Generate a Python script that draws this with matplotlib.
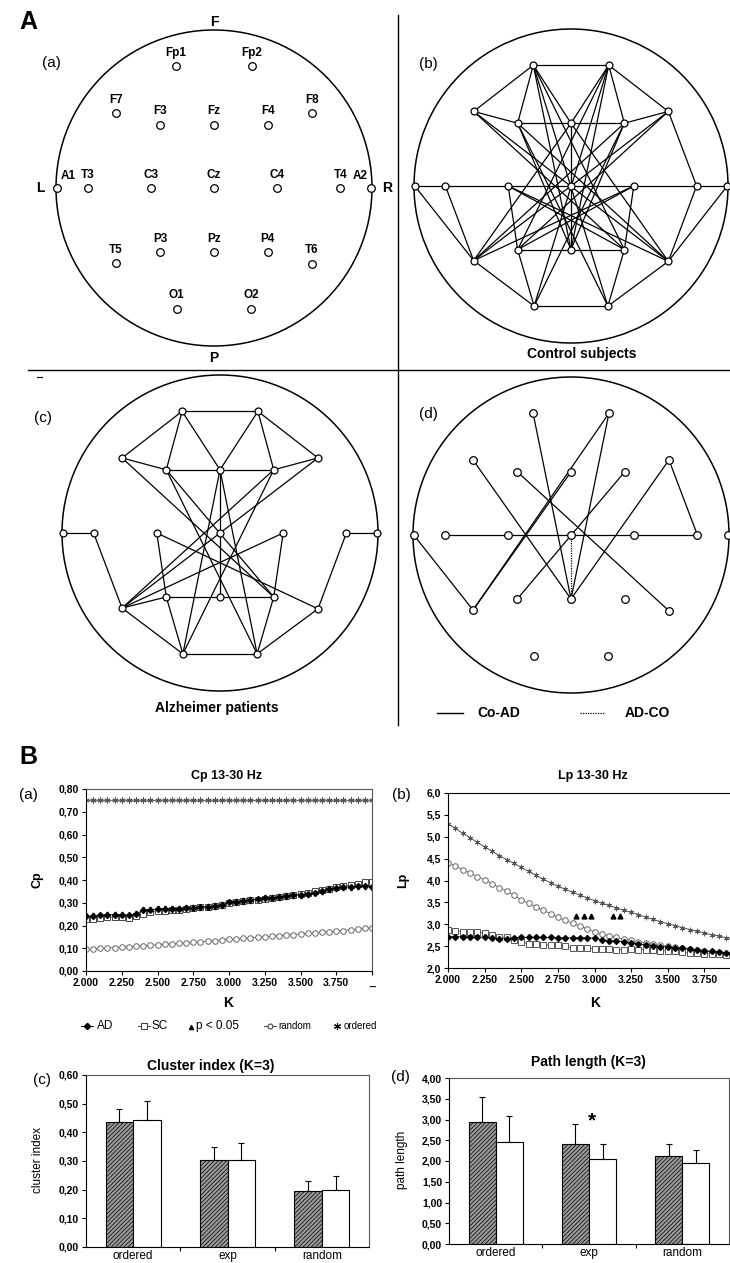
import numpy as np
import matplotlib.pyplot as plt
from matplotlib.patches import Circle

plt.rcParams['font.family'] = ['Liberation Sans', 'DejaVu Sans']
plt.rcParams['hatch.linewidth'] = 0.5

# ---- electrode layout (unit head circle, y up) ----
el_names = ['Fp1', 'Fp2', 'F7', 'F3', 'Fz', 'F4', 'F8',
            'A1', 'T3', 'C3', 'Cz', 'C4', 'T4', 'A2',
            'T5', 'P3', 'Pz', 'P4', 'T6', 'O1', 'O2']
el_x = [-0.24, 0.24, -0.62, -0.34, 0.0, 0.34, 0.62,
        -0.995, -0.80, -0.40, 0.0, 0.40, 0.80, 0.995,
        -0.62, -0.34, 0.0, 0.34, 0.62, -0.235, 0.235]
el_y = [0.77, 0.77, 0.475, 0.40, 0.40, 0.40, 0.475,
        0.0, 0.0, 0.0, 0.0, 0.0, 0.0, 0.0,
        -0.475, -0.405, -0.405, -0.405, -0.48, -0.765, -0.765]
pos = {n: (x, y) for n, x, y in zip(el_names, el_x, el_y)}

edges_control = [('Fp1', 'Fp2'), ('Fp1', 'F7'), ('Fp2', 'F8'), ('Fp1', 'F3'), ('Fp1', 'Fz'),
                 ('Fp2', 'F4'), ('Fp2', 'Fz'), ('F7', 'F3'), ('F3', 'F4'), ('F4', 'F8'),
                 ('F8', 'T4'), ('A1', 'A2'), ('A1', 'T5'), ('T3', 'T5'), ('A2', 'T6'),
                 ('T4', 'T6'), ('T5', 'O1'), ('T6', 'O2'), ('O1', 'O2'), ('P3', 'P4'),
                 ('C3', 'P3'), ('C4', 'P4'), ('P3', 'O1'), ('P4', 'O2'), ('Fz', 'Pz'),
                 ('Fp1', 'Pz'), ('Fp1', 'P4'), ('Fp1', 'O2'), ('F7', 'P4'), ('F7', 'T6'),
                 ('F3', 'T6'), ('F3', 'O2'), ('F3', 'Pz'), ('C3', 'T6'), ('C3', 'P4'),
                 ('Fp2', 'Pz'), ('Fp2', 'P3'), ('Fp2', 'O1'), ('F8', 'P3'), ('F8', 'T5'),
                 ('F4', 'T5'), ('F4', 'O1'), ('F4', 'Pz'), ('C4', 'T5'), ('C4', 'P3'),
                 ('Fz', 'T5'), ('Fz', 'T6')]
edges_alzheimer = [('Fp1', 'Fp2'), ('Fp1', 'F7'), ('Fp1', 'F3'), ('Fp1', 'Fz'), ('Fp2', 'Fz'),
                   ('Fp2', 'F4'), ('Fp2', 'F8'), ('F7', 'F3'), ('F3', 'F4'), ('F4', 'F8'),
                   ('F7', 'P4'), ('F3', 'P4'), ('F3', 'O2'), ('F8', 'T5'), ('F4', 'T5'),
                   ('F4', 'O1'), ('Fz', 'Pz'), ('Fz', 'O1'), ('Fz', 'O2'), ('A1', 'T3'),
                   ('T3', 'T5'), ('A2', 'T4'), ('T4', 'T6'), ('C3', 'P3'), ('C3', 'T6'),
                   ('C4', 'P4'), ('C4', 'T5'), ('T5', 'P3'), ('P3', 'P4'), ('P3', 'O1'),
                   ('P4', 'O2'), ('T5', 'O1'), ('T6', 'O2'), ('O1', 'O2')]
edges_co_ad = [('Fp1', 'Pz'), ('Fp2', 'T5'), ('Fp2', 'Pz'), ('F7', 'Pz'), ('F3', 'T6'),
               ('Fz', 'T5'), ('F4', 'P3'), ('F8', 'Pz'), ('F8', 'T4'), ('T3', 'T4'),
               ('A1', 'T5')]
edges_ad_co = [('Cz', 'Pz')]

# ---- small-world curves vs K ----
K = [2.00, 2.05, 2.10, 2.15, 2.20, 2.25, 2.30, 2.35, 2.40, 2.45, 2.50, 2.55, 2.60, 2.65,
     2.70, 2.75, 2.80, 2.85, 2.90, 2.95, 3.00, 3.05, 3.10, 3.15, 3.20, 3.25, 3.30, 3.35,
     3.40, 3.45, 3.50, 3.55, 3.60, 3.65, 3.70, 3.75, 3.80, 3.85, 3.90, 3.95, 4.00]

cp_ordered = [0.75, 0.75, 0.75, 0.75, 0.75, 0.75, 0.75, 0.75, 0.75, 0.75, 0.75, 0.75, 0.75, 0.75,
              0.75, 0.75, 0.75, 0.75, 0.75, 0.75, 0.75, 0.75, 0.75, 0.75, 0.75, 0.75, 0.75, 0.75,
              0.75, 0.75, 0.75, 0.75, 0.75, 0.75, 0.75, 0.75, 0.75, 0.75, 0.75, 0.75, 0.75]
cp_random = [0.095, 0.097, 0.099, 0.101, 0.103, 0.105, 0.107, 0.109, 0.111, 0.113, 0.116,
             0.118, 0.120, 0.122, 0.124, 0.127, 0.129, 0.131, 0.134, 0.136, 0.139, 0.141,
             0.143, 0.146, 0.148, 0.151, 0.153, 0.156, 0.158, 0.160, 0.163, 0.165, 0.168,
             0.170, 0.173, 0.175, 0.178, 0.181, 0.184, 0.187, 0.190]
cp_ad = [0.240, 0.242, 0.245, 0.247, 0.248, 0.246, 0.245, 0.250, 0.268, 0.270, 0.272, 0.273,
         0.274, 0.274, 0.276, 0.278, 0.280, 0.283, 0.285, 0.290, 0.302, 0.305, 0.307, 0.312,
         0.315, 0.320, 0.322, 0.325, 0.330, 0.332, 0.335, 0.338, 0.345, 0.352, 0.360, 0.365,
         0.368, 0.370, 0.372, 0.372, 0.370]
cp_sc = [0.228, 0.230, 0.232, 0.236, 0.238, 0.236, 0.235, 0.240, 0.250, 0.258, 0.262, 0.264,
         0.266, 0.268, 0.272, 0.276, 0.280, 0.282, 0.285, 0.290, 0.298, 0.302, 0.306, 0.310,
         0.314, 0.318, 0.322, 0.326, 0.330, 0.334, 0.338, 0.345, 0.350, 0.356, 0.362, 0.368,
         0.373, 0.378, 0.383, 0.390, 0.392]
cp_err = 0.012

lp_ordered = [5.30, 5.19, 5.08, 4.98, 4.87, 4.77, 4.67, 4.57, 4.48, 4.39, 4.30, 4.21, 4.12,
              4.03, 3.95, 3.87, 3.80, 3.73, 3.67, 3.60, 3.54, 3.48, 3.43, 3.37, 3.32, 3.27,
              3.22, 3.16, 3.11, 3.06, 3.01, 2.97, 2.92, 2.88, 2.84, 2.80, 2.76, 2.73, 2.69,
              2.66, 2.62]
lp_random = [4.41, 4.33, 4.25, 4.17, 4.09, 4.01, 3.93, 3.84, 3.76, 3.66, 3.56, 3.48, 3.40,
             3.32, 3.24, 3.16, 3.09, 3.02, 2.96, 2.89, 2.83, 2.78, 2.74, 2.70, 2.66, 2.63,
             2.60, 2.57, 2.55, 2.52, 2.50, 2.48, 2.46, 2.43, 2.41, 2.39, 2.37, 2.35, 2.33,
             2.31, 2.29]
lp_ad = [2.72, 2.71, 2.72, 2.71, 2.71, 2.70, 2.69, 2.67, 2.67, 2.68, 2.70, 2.70, 2.70, 2.70,
         2.70, 2.69, 2.69, 2.69, 2.69, 2.69, 2.68, 2.65, 2.62, 2.62, 2.60, 2.58, 2.55, 2.53,
         2.51, 2.49, 2.48, 2.46, 2.45, 2.43, 2.42, 2.40, 2.38, 2.36, 2.34, 2.32, 2.30]
lp_sc = [2.86, 2.85, 2.83, 2.82, 2.82, 2.80, 2.75, 2.72, 2.70, 2.65, 2.60, 2.55, 2.54, 2.53,
         2.53, 2.52, 2.50, 2.46, 2.45, 2.45, 2.44, 2.43, 2.43, 2.42, 2.42, 2.43, 2.42, 2.42,
         2.41, 2.40, 2.39, 2.38, 2.37, 2.35, 2.34, 2.33, 2.32, 2.31, 2.30, 2.29, 2.28]
lp_err = 0.03
sig_k = [2.875, 2.925, 2.975, 3.125, 3.175]
sig_lp = [3.2, 3.2, 3.2, 3.2, 3.2]

# ---- bar charts at K=3 ----
cats = ['ordered', 'exp', 'random']
ci_ad = [0.435, 0.302, 0.194]
ci_ad_err = [0.045, 0.048, 0.035]
ci_sc = [0.443, 0.302, 0.198]
ci_sc_err = [0.067, 0.060, 0.050]
pl_ad = [2.94, 2.40, 2.13]
pl_ad_err = [0.60, 0.49, 0.27]
pl_sc = [2.45, 2.06, 1.95]
pl_sc_err = [0.64, 0.34, 0.31]

W, H = 730, 1263
fig = plt.figure(figsize=(7.3, 12.63), dpi=100)


def box(left, top, right, bottom):
    return [left / W, 1 - bottom / H, (right - left) / W, (bottom - top) / H]


# full-page axes in pixel units for frames and free text
ax0 = fig.add_axes([0, 0, 1, 1])
ax0.set_xlim(0, W)
ax0.set_ylim(H, 0)
ax0.axis('off')
ax0.plot([398, 398], [15, 725], color='black', lw=1.0)
ax0.plot([28, 730], [370, 370], color='black', lw=1.0)
ax0.plot([37, 42], [377, 377], color='black', lw=0.8)
ax0.text(28, 22, 'A', fontsize=18, fontweight='bold', ha='center', va='center')
ax0.text(28, 757, 'B', fontsize=18, fontweight='bold', ha='center', va='center')


def head_axes(cx, cy, r):
    s = 1.25 * r
    ax = fig.add_axes(box(cx - s, cy - s, cx + s, cy + s))
    ax.set_xlim(-s / r, s / r)
    ax.set_ylim(-s / r, s / r)
    ax.axis('off')
    ax.add_patch(Circle((0, 0), 1, fill=False, ec='black', lw=1.1))
    return ax


def draw_edges(ax, edges, ls='-'):
    for a, b in edges:
        ax.plot([pos[a][0], pos[b][0]], [pos[a][1], pos[b][1]], color='black',
                lw=0.9, ls=ls, clip_on=False)


def draw_nodes(ax, ms=5.5):
    ax.plot(el_x, el_y, ls='none', marker='o', ms=ms, mfc='white', mec='black',
            mew=0.9, clip_on=False, zorder=5)


# (a) electrode map
ax_a = head_axes(214, 188, 158)
draw_nodes(ax_a)
for n, x, y in zip(el_names, el_x, el_y):
    dx, dy = 0.0, 0.085
    if n == 'A1':
        dx, dy = 0.07, 0.075
    elif n == 'A2':
        dx, dy = -0.07, 0.075
    ax_a.text(x + dx, y + dy, n, fontsize=8.5, fontweight='bold', ha='center', va='center',
              family=['Liberation Sans Narrow', 'Liberation Sans'])
ax_a.text(0, 1.05, 'F', fontsize=10, fontweight='bold', ha='center', va='center')
ax_a.text(0, -1.075, 'P', fontsize=10, fontweight='bold', ha='center', va='center')
ax_a.text(-1.10, 0, 'L', fontsize=10, fontweight='bold', ha='center', va='center')
ax_a.text(1.095, 0, 'R', fontsize=10, fontweight='bold', ha='center', va='center')
ax0.text(51, 63, '(a)', fontsize=11, ha='center', va='center')

# (b) control subjects
ax_b = head_axes(571, 186, 157)
draw_edges(ax_b, edges_control)
draw_nodes(ax_b, ms=5)
ax0.text(428, 64, '(b)', fontsize=11, ha='center', va='center')
ax0.text(582, 354, 'Control subjects', fontsize=10, fontweight='bold', ha='center', va='center')

# (c) Alzheimer patients
ax_c = head_axes(220, 533, 158)
draw_edges(ax_c, edges_alzheimer)
draw_nodes(ax_c, ms=5)
ax0.text(43, 418, '(c)', fontsize=11, ha='center', va='center')
ax0.text(217, 708, 'Alzheimer patients', fontsize=10, fontweight='bold', ha='center', va='center')

# (d) differences
ax_d = head_axes(571, 535, 158)
draw_edges(ax_d, edges_co_ad)
draw_edges(ax_d, edges_ad_co, ls=(0, (1, 1)))
draw_nodes(ax_d, ms=5.5)
ax0.text(428, 414, '(d)', fontsize=11, ha='center', va='center')
ax0.plot([437, 463], [713, 713], color='black', lw=1.0)
ax0.text(477, 713, 'Co-AD', fontsize=10, fontweight='bold', ha='left', va='center')
ax0.plot([580, 605], [713, 713], color='black', lw=0.9, ls=(0, (1, 1)))
ax0.text(625, 713, 'AD-CO', fontsize=10, fontweight='bold', ha='left', va='center')


def comma(v, nd):
    return f'{v:.{nd}f}'.replace('.', ',')


def style_axes(ax):
    ax.spines['top'].set_color('#555')
    ax.spines['right'].set_color('#555')
    for s in ax.spines.values():
        s.set_linewidth(0.8)
    ax.tick_params(direction='out', length=3, width=0.8, pad=2)


# B(a) clustering coefficient
ax_cp = fig.add_axes(box(86, 789, 372, 971))
ax_cp.plot(K, cp_ordered, color='#555', lw=0.6, marker=(6, 2, 0), ms=4.5, mew=0.7)
ax_cp.plot(K, cp_random, color='#666', lw=0.6, marker='o', ms=4, mfc='white', mew=0.7)
ax_cp.errorbar(K, cp_sc, yerr=cp_err, color='#444', lw=0.6, marker='s', ms=3.8, mfc='white',
               mew=0.7, capsize=1, elinewidth=0.6)
ax_cp.errorbar(K, cp_ad, yerr=cp_err, color='black', lw=0.6, marker='D', ms=3, capsize=1,
               elinewidth=0.6)
ax_cp.set_xlim(2.0, 4.0)
ax_cp.set_ylim(0, 0.8)
xt = [2.0, 2.25, 2.5, 2.75, 3.0, 3.25, 3.5, 3.75, 4.0]
ax_cp.set_xticks(xt)
ax_cp.set_xticklabels([f'{v:.3f}' for v in xt[:-1]] + ['_'], fontsize=7.5, fontweight='bold')
yt = [0.0, 0.1, 0.2, 0.3, 0.4, 0.5, 0.6, 0.7, 0.8]
ax_cp.set_yticks(yt)
ax_cp.set_yticklabels([comma(v, 2) for v in yt], fontsize=7.5, fontweight='bold')
style_axes(ax_cp)
ax0.text(227, 776, 'Cp 13-30 Hz', fontsize=9, fontweight='bold', ha='center', va='center')
ax0.text(28, 795, '(a)', fontsize=11, ha='center', va='center')
ax0.text(37, 880, 'Cp', fontsize=9, fontweight='bold', rotation=90, ha='center', va='center')
ax0.text(228, 1003, 'K', fontsize=10, fontweight='bold', ha='center', va='center')

# B(b) characteristic path length
ax_lp = fig.add_axes(box(448, 793, 741, 968))
ax_lp.plot(K, lp_ordered, color='#555', lw=0.7, marker=(6, 2, 0), ms=4, mew=0.6)
ax_lp.plot(K, lp_random, color='#666', lw=0.6, marker='o', ms=4, mfc='white', mew=0.7)
ax_lp.errorbar(K, lp_sc, yerr=lp_err, color='#555', lw=0.6, marker='s', ms=3.8, mfc='white',
               mew=0.7, capsize=1, elinewidth=0.6)
ax_lp.errorbar(K, lp_ad, yerr=lp_err, color='black', lw=0.6, marker='D', ms=3, capsize=1,
               elinewidth=0.6)
ax_lp.plot(sig_k, sig_lp, ls='none', marker='^', ms=3.5, color='black')
ax_lp.set_xlim(2.0, 4.0)
ax_lp.set_ylim(2.0, 6.0)
ax_lp.set_xticks(xt[:-1])
ax_lp.set_xticklabels([f'{v:.3f}' for v in xt[:-1]], fontsize=7.5, fontweight='bold')
yt2 = [2.0, 2.5, 3.0, 3.5, 4.0, 4.5, 5.0, 5.5, 6.0]
ax_lp.set_yticks(yt2)
ax_lp.set_yticklabels([comma(v, 1) for v in yt2], fontsize=7.5, fontweight='bold')
style_axes(ax_lp)
ax_lp.spines['top'].set_color('black')
ax0.text(593, 776, 'Lp 13-30 Hz', fontsize=9, fontweight='bold', ha='center', va='center')
ax0.text(401, 795, '(b)', fontsize=11, ha='center', va='center')
ax0.text(403, 880, 'Lp', fontsize=9, fontweight='bold', rotation=90, ha='center', va='center')
ax0.text(595, 1003, 'K', fontsize=10, fontweight='bold', ha='center', va='center')

# legend row for the K curves
ly = 1026
ax0.plot([81, 87, 93], [ly, ly, ly], color='black', lw=0.7, marker='D', ms=3.2, markevery=[1])
ax0.text(97, ly, 'AD', fontsize=8.5, ha='left', va='center')
ax0.plot([138, 144, 150], [ly, ly, ly], color='#444', lw=0.7, marker='s', ms=4, mfc='white',
         mew=0.8, markevery=[1])
ax0.text(152, ly, 'SC', fontsize=8.5, ha='left', va='center')
ax0.plot([191], [ly + 1], marker='^', ms=3, color='black')
ax0.text(196, ly, 'p < 0.05', fontsize=8.5, ha='left', va='center')
ax0.plot([264, 270, 276], [ly, ly, ly], color='#444', lw=0.7, marker='o', ms=3.5, mfc='white',
         mew=0.8, markevery=[1])
ax0.text(278, ly, 'random', fontsize=7, ha='left', va='center',
         family=['Liberation Sans Narrow', 'Liberation Sans'])
ax0.plot([337], [ly], marker=(6, 2, 0), ms=5, mew=0.8, color='black')
ax0.text(344, ly, 'ordered', fontsize=7, ha='left', va='center',
         family=['Liberation Sans Narrow', 'Liberation Sans'])


def bar_panel(ax, ad, ad_err, sc, sc_err, ymax, step):
    x = np.arange(len(cats))
    w = 0.29
    ax.bar(x - w / 2, ad, w, color='#9a9a9a', edgecolor='black', hatch='////////', lw=0.8)
    ax.bar(x + w / 2, sc, w, color='white', edgecolor='black', lw=0.8)
    ax.errorbar(x - w / 2, ad, yerr=[np.zeros(len(ad)), ad_err], fmt='none', ecolor='black',
                elinewidth=0.8, capsize=2, capthick=0.8)
    ax.errorbar(x + w / 2, sc, yerr=[np.zeros(len(sc)), sc_err], fmt='none', ecolor='black',
                elinewidth=0.8, capsize=2, capthick=0.8)
    ax.set_xlim(-0.5, 2.5)
    ax.set_ylim(0, ymax)
    ax.set_xticks(x)
    ax.set_xticklabels(cats, fontsize=8.5)
    ax.set_xticks([0.5, 1.5], minor=True)
    ax.tick_params(axis='x', which='major', length=0, pad=2)
    ax.tick_params(axis='x', which='minor', direction='out', length=3, width=0.8)
    ticks = np.arange(0, ymax + step / 2, step)
    ax.set_yticks(ticks)
    ax.set_yticklabels([comma(v, 2) for v in ticks], fontsize=7.5, fontweight='bold')
    ax.tick_params(axis='y', direction='out', length=3, width=0.8, pad=2)
    ax.spines['top'].set_color('#555')
    ax.spines['right'].set_color('#555')
    for s in ax.spines.values():
        s.set_linewidth(0.8)


# B(c) cluster index
ax_ci = fig.add_axes(box(86, 1075, 369, 1247))
bar_panel(ax_ci, ci_ad, ci_ad_err, ci_sc, ci_sc_err, 0.6, 0.1)
ax0.text(211, 1066, 'Cluster index (K=3)', fontsize=10, fontweight='bold', ha='center', va='center')
ax0.text(42, 1080, '(c)', fontsize=11, ha='center', va='center')
ax0.text(38, 1160, 'cluster index', fontsize=8.5, rotation=90, ha='center', va='center')

# B(d) path length
ax_pl = fig.add_axes(box(449, 1078, 729, 1244))
bar_panel(ax_pl, pl_ad, pl_ad_err, pl_sc, pl_sc_err, 4.0, 0.5)
ax_pl.text(1.03, 2.97, '*', fontsize=15, fontweight='bold', ha='center', va='center')
ax0.text(588, 1062, 'Path length (K=3)', fontsize=10, fontweight='bold', ha='center', va='center')
ax0.text(400, 1077, '(d)', fontsize=11, ha='center', va='center')
ax0.text(402, 1160, 'path length', fontsize=8.5, rotation=90, ha='center', va='center')

fig.savefig('out.png', dpi=100)
